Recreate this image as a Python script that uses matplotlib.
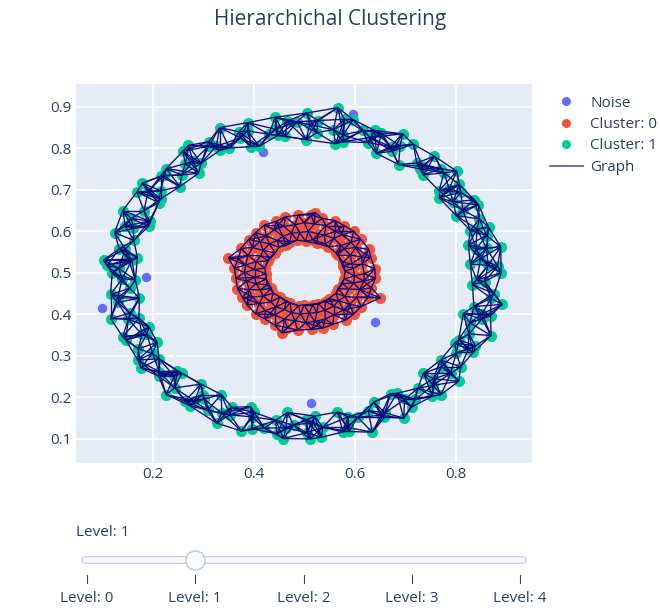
import numpy as np
import matplotlib
matplotlib.use("Agg")
import matplotlib.pyplot as plt
from matplotlib.collections import LineCollection
from matplotlib.lines import Line2D

plt.rcParams['font.family'] = ['Open Sans', 'DejaVu Sans']

TEXT = '#2a3f5f'

# points left out of both clusters
noise_x = [0.418, 0.596, 0.099, 0.186, 0.640, 0.513]
noise_y = [0.791, 0.883, 0.416, 0.490, 0.382, 0.187]

# inner ring
cluster0 = [
    (0.580, 0.504), (0.575, 0.517), (0.576, 0.525), (0.566, 0.543), (0.562, 0.548),
    (0.547, 0.563), (0.541, 0.570), (0.524, 0.571), (0.516, 0.580), (0.502, 0.576),
    (0.596, 0.511), (0.593, 0.522), (0.591, 0.543), (0.578, 0.558), (0.572, 0.566),
    (0.558, 0.583), (0.539, 0.591), (0.527, 0.594), (0.507, 0.600),
    (0.618, 0.498), (0.614, 0.522), (0.613, 0.538), (0.601, 0.561), (0.592, 0.574),
    (0.574, 0.592), (0.561, 0.600), (0.542, 0.614), (0.519, 0.618), (0.499, 0.621),
    (0.639, 0.510), (0.631, 0.537), (0.627, 0.557), (0.611, 0.581), (0.597, 0.600),
    (0.578, 0.614), (0.560, 0.626), (0.535, 0.631), (0.513, 0.640),
    (0.485, 0.579), (0.471, 0.575), (0.463, 0.566), (0.449, 0.562), (0.442, 0.548),
    (0.430, 0.537), (0.428, 0.529), (0.421, 0.512), (0.423, 0.498),
    (0.490, 0.597), (0.474, 0.596), (0.457, 0.588), (0.446, 0.578), (0.430, 0.570),
    (0.418, 0.554), (0.413, 0.541), (0.404, 0.527), (0.401, 0.508),
    (0.481, 0.616), (0.459, 0.612), (0.440, 0.604), (0.424, 0.589), (0.412, 0.575),
    (0.397, 0.561), (0.388, 0.542), (0.383, 0.519), (0.381, 0.501),
    (0.487, 0.639), (0.462, 0.635), (0.443, 0.624), (0.420, 0.615), (0.403, 0.597),
    (0.389, 0.580), (0.374, 0.559), (0.369, 0.534), (0.361, 0.511),
    (0.424, 0.485), (0.426, 0.471), (0.434, 0.463), (0.438, 0.451), (0.451, 0.442),
    (0.463, 0.430), (0.471, 0.428), (0.488, 0.421), (0.499, 0.423),
    (0.401, 0.489), (0.404, 0.474), (0.412, 0.459), (0.418, 0.444), (0.433, 0.430),
    (0.443, 0.418), (0.460, 0.412), (0.474, 0.404), (0.492, 0.401),
    (0.385, 0.480), (0.390, 0.460), (0.396, 0.442), (0.410, 0.426), (0.422, 0.409),
    (0.441, 0.399), (0.460, 0.388), (0.481, 0.385), (0.502, 0.380),
    (0.364, 0.487), (0.367, 0.462), (0.377, 0.441), (0.386, 0.423), (0.403, 0.401),
    (0.421, 0.389), (0.441, 0.374), (0.466, 0.368), (0.486, 0.362),
    (0.516, 0.423), (0.527, 0.426), (0.541, 0.431), (0.548, 0.438), (0.562, 0.451),
    (0.566, 0.462), (0.575, 0.474), (0.578, 0.485),
    (0.509, 0.403), (0.524, 0.404), (0.540, 0.410), (0.558, 0.420), (0.567, 0.433),
    (0.580, 0.443), (0.588, 0.461), (0.597, 0.476), (0.599, 0.493),
    (0.520, 0.383), (0.541, 0.389), (0.558, 0.399), (0.577, 0.411), (0.589, 0.424),
    (0.603, 0.441), (0.609, 0.460), (0.617, 0.480),
    (0.514, 0.364), (0.536, 0.367), (0.556, 0.376), (0.581, 0.386), (0.597, 0.401),
    (0.612, 0.419), (0.626, 0.442), (0.632, 0.464), (0.640, 0.487),
    (0.650, 0.440), (0.349, 0.536), (0.521, 0.645), (0.455, 0.355),
]

# outer ring
cluster1 = [
    (0.841, 0.483), (0.828, 0.521), (0.839, 0.557), (0.824, 0.567), (0.828, 0.602),
    (0.800, 0.638), (0.794, 0.671), (0.766, 0.681), (0.766, 0.698), (0.735, 0.736),
    (0.729, 0.750), (0.686, 0.761), (0.673, 0.793), (0.642, 0.788), (0.625, 0.814),
    (0.576, 0.816), (0.561, 0.811), (0.524, 0.838),
    (0.863, 0.518), (0.848, 0.534), (0.860, 0.559), (0.841, 0.606), (0.846, 0.630),
    (0.813, 0.651), (0.809, 0.694), (0.786, 0.702), (0.776, 0.741), (0.733, 0.757),
    (0.722, 0.765), (0.689, 0.806), (0.670, 0.804), (0.630, 0.826), (0.615, 0.843),
    (0.576, 0.832), (0.557, 0.845), (0.510, 0.857),
    (0.889, 0.500), (0.882, 0.516), (0.888, 0.563), (0.860, 0.590), (0.864, 0.610),
    (0.844, 0.664), (0.836, 0.676), (0.806, 0.713), (0.801, 0.745), (0.770, 0.751),
    (0.757, 0.781), (0.715, 0.810), (0.694, 0.835), (0.652, 0.836), (0.639, 0.843),
    (0.596, 0.869), (0.579, 0.870), (0.526, 0.867), (0.566, 0.898),
    (0.503, 0.821), (0.462, 0.829), (0.447, 0.831), (0.410, 0.805), (0.394, 0.804),
    (0.351, 0.801), (0.332, 0.795), (0.295, 0.764), (0.290, 0.740), (0.257, 0.736),
    (0.253, 0.708), (0.215, 0.678), (0.211, 0.669), (0.193, 0.625), (0.191, 0.612),
    (0.162, 0.578), (0.169, 0.537), (0.158, 0.530),
    (0.485, 0.864), (0.442, 0.846), (0.429, 0.834), (0.387, 0.842), (0.373, 0.825),
    (0.325, 0.805), (0.310, 0.805), (0.279, 0.769), (0.264, 0.763), (0.221, 0.735),
    (0.215, 0.698), (0.190, 0.695), (0.182, 0.650), (0.157, 0.631), (0.161, 0.607),
    (0.145, 0.557), (0.151, 0.533), (0.132, 0.511),
    (0.504, 0.885), (0.465, 0.865), (0.442, 0.875), (0.388, 0.862), (0.370, 0.840),
    (0.332, 0.850), (0.310, 0.816), (0.270, 0.807), (0.259, 0.793), (0.226, 0.751),
    (0.215, 0.733), (0.179, 0.716), (0.168, 0.695), (0.140, 0.650), (0.145, 0.613),
    (0.124, 0.597), (0.133, 0.558), (0.109, 0.518), (0.102, 0.531),
    (0.165, 0.483), (0.154, 0.463), (0.173, 0.439), (0.172, 0.391), (0.192, 0.370),
    (0.188, 0.352), (0.208, 0.333), (0.212, 0.293), (0.248, 0.264), (0.257, 0.258),
    (0.295, 0.232), (0.298, 0.207), (0.335, 0.207), (0.356, 0.176), (0.393, 0.178),
    (0.400, 0.164), (0.443, 0.145), (0.466, 0.164),
    (0.139, 0.486), (0.130, 0.440), (0.154, 0.403), (0.151, 0.388), (0.178, 0.352),
    (0.171, 0.317), (0.199, 0.306), (0.212, 0.262), (0.242, 0.251), (0.243, 0.223),
    (0.282, 0.191), (0.301, 0.196), (0.336, 0.162), (0.352, 0.158), (0.397, 0.153),
    (0.420, 0.126), (0.463, 0.127), (0.478, 0.133),
    (0.119, 0.500), (0.116, 0.448), (0.130, 0.429), (0.116, 0.390), (0.140, 0.346),
    (0.146, 0.338), (0.170, 0.290), (0.176, 0.271), (0.211, 0.251), (0.226, 0.207),
    (0.263, 0.191), (0.273, 0.180), (0.308, 0.169), (0.326, 0.138), (0.375, 0.119),
    (0.396, 0.125), (0.445, 0.112), (0.458, 0.101), (0.510, 0.100),
    (0.503, 0.145), (0.520, 0.155), (0.565, 0.165), (0.586, 0.153), (0.626, 0.168),
    (0.637, 0.189), (0.670, 0.209), (0.683, 0.210), (0.724, 0.222), (0.735, 0.258),
    (0.771, 0.274), (0.769, 0.290), (0.797, 0.331), (0.805, 0.339), (0.827, 0.380),
    (0.814, 0.402), (0.835, 0.419), (0.832, 0.472),
    (0.517, 0.140), (0.536, 0.128), (0.585, 0.128), (0.605, 0.152), (0.651, 0.157),
    (0.659, 0.163), (0.698, 0.195), (0.719, 0.195), (0.754, 0.229), (0.755, 0.245),
    (0.789, 0.258), (0.800, 0.307), (0.824, 0.316), (0.825, 0.353), (0.851, 0.389),
    (0.851, 0.401), (0.869, 0.439), (0.856, 0.479),
    (0.504, 0.115), (0.533, 0.104), (0.576, 0.117), (0.588, 0.118), (0.634, 0.116),
    (0.658, 0.152), (0.696, 0.150), (0.712, 0.177), (0.753, 0.203), (0.770, 0.207),
    (0.805, 0.239), (0.809, 0.274), (0.834, 0.309), (0.838, 0.324), (0.869, 0.349),
    (0.868, 0.397), (0.891, 0.424), (0.875, 0.450),
]

levels = [0, 1, 2, 3, 4]
current_level = 1


def neighbour_edges(pts, k):
    # connect every point to its k closest points of the same cluster
    d = np.sqrt(((pts[:, None, :] - pts[None, :, :]) ** 2).sum(-1))
    np.fill_diagonal(d, np.inf)
    pairs = set()
    for i, row in enumerate(np.argsort(d, axis=1)[:, :k]):
        for j in row:
            pairs.add((min(i, j), max(i, j)))
    return [(pts[i], pts[j]) for i, j in sorted(pairs)]


c0 = np.array(cluster0)
c1 = np.array(cluster1)
segments = neighbour_edges(c0, 5) + neighbour_edges(c1, 7)

fig = plt.figure(figsize=(6.6, 6.12), dpi=100)
ax = fig.add_axes([76 / 660, 1 - 463 / 612, 456 / 660, 379 / 612])
ax.set_facecolor('#E5ECF6')
for s in ax.spines.values():
    s.set_visible(False)
ax.set_axisbelow(True)
ax.grid(color='white', linewidth=1.1)

ax.scatter(noise_x, noise_y, s=46, color='#636efa', linewidths=0, zorder=2)
ax.scatter(c0[:, 0], c0[:, 1], s=64, color='#EF553B', linewidths=0, zorder=2)
ax.scatter(c1[:, 0], c1[:, 1], s=64, color='#00CC96', linewidths=0, zorder=2)
ax.add_collection(LineCollection(segments, colors='#0b0b7d', linewidths=0.95, zorder=3))

ax.set_xlim(0.0475, 0.95)
ax.set_ylim(0.042, 0.955)
ax.set_xticks([0.2, 0.4, 0.6, 0.8])
ax.set_yticks([0.1, 0.2, 0.3, 0.4, 0.5, 0.6, 0.7, 0.8, 0.9])
ax.tick_params(length=0, labelsize=11, labelcolor=TEXT, pad=3)

fig.text(0.5, 1 - 20 / 612, 'Hierarchichal Clustering', ha='center', va='center',
         fontsize=15, color=TEXT)

handles = [
    Line2D([], [], ls='', marker='o', ms=6.5, mew=0, color='#636efa'),
    Line2D([], [], ls='', marker='o', ms=6.5, mew=0, color='#EF553B'),
    Line2D([], [], ls='', marker='o', ms=6.5, mew=0, color='#00CC96'),
    Line2D([], [], color='#0b0b7d', lw=1.2, alpha=0.7),
]
fig.legend(handles, ['Noise', 'Cluster: 0', 'Cluster: 1', 'Graph'],
           loc='upper left', bbox_to_anchor=(542 / 660, 1 - 88 / 612),
           frameon=False, fontsize=11, labelcolor=TEXT, borderpad=0,
           handlelength=2.2, handletextpad=0.45, labelspacing=0.42)

# level slider under the plot
sl = fig.add_axes([87 / 660, 1 - 608 / 612, 433 / 660, 88 / 612])
sl.set_xlim(levels[0], levels[-1])
sl.set_ylim(608, 520)
sl.axis('off')
sl.plot([-0.02, 4.03], [560, 560], color='#bec8d9', lw=5.5,
        solid_capstyle='round', clip_on=False)
sl.plot([-0.02, 4.03], [560, 560], color='#f8fafc', lw=4,
        solid_capstyle='round', clip_on=False)
sl.scatter([current_level], [560], s=190, color='#f8fafc', edgecolors='#bec8d9',
           linewidths=1, zorder=3, clip_on=False)
for lv in levels:
    sl.plot([lv, lv], [575, 583], color='#444444', lw=0.8, clip_on=False)
    sl.text(lv, 598, f'Level: {lv}', ha='center', va='center', fontsize=11,
            color=TEXT, clip_on=False)
sl.text(-0.1, 533, f'Level: {current_level}', ha='left', va='center', fontsize=11,
        color=TEXT, clip_on=False)

fig.savefig('out.png', dpi=100, facecolor='white')
